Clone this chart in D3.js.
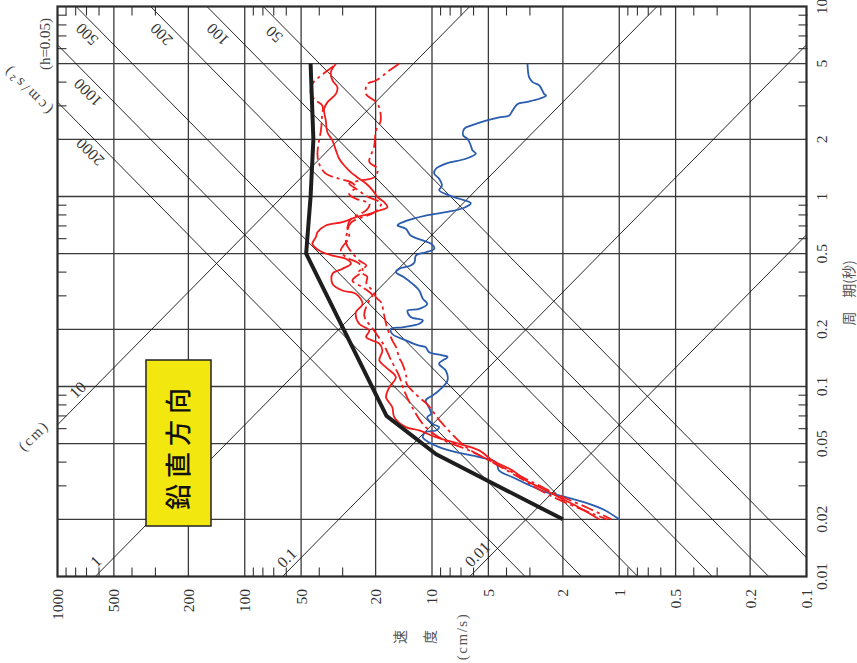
<!DOCTYPE html>
<html>
<head>
<meta charset="utf-8">
<script src="https://cdn.jsdelivr.net/npm/d3@7"></script>
<style>
  body { margin: 0; background: #fff; }
  svg { display: block; }
</style>
</head>
<body>
<svg id="chart" width="857" height="663"></svg>
<script>
// Axis ticks (period in seconds, pseudo velocity in cm/s)
const periodTicks = [10, 5, 2, 1, 0.5, 0.2, 0.1, 0.05, 0.02, 0.01];
const velocityTicks = [1000, 500, 200, 100, 50, 20, 10, 5, 2, 1, 0.5, 0.2, 0.1];
const minorMultipliers = [3, 4, 6, 7, 8, 9];
const velocityDecades = [100, 10, 1, 0.1];
const periodDecades = [1, 0.1, 0.01];

// Tripartite guide lines: displacement (cm) and acceleration (cm/s2)
const displacementLevels = [10, 1, 0.1, 0.01];
const displacementLabelPeriod = [0.088, 0.011, 0.0115, 0.012];
const accelerationLevels = [500, 200, 100, 50, 1000, 2000];
const accelerationLabelPeriod = [7.9, 7.9, 7.9, 7.9, 3.9, 1.9];

// Design spectrum (black)
const designPeriod = [5, 2, 1, 0.5, 0.07, 0.044, 0.02];
const designVelocity = [44.5, 43, 44.5, 47, 17.5, 9.5, 2];

// Blue record
const bluePeriod = [5, 4.25, 4.0, 3.84, 3.47, 3.40, 3.27, 3.14, 3.07, 2.84, 2.67, 2.61, 2.51, 2.36, 2.27, 2.09, 2.01, 1.85, 1.75, 1.68, 1.58, 1.49, 1.40, 1.32, 1.24, 1.14, 1.08, 1.03, 0.973, 0.922, 0.873, 0.827, 0.794, 0.763, 0.718, 0.704, 0.676, 0.623, 0.587, 0.564, 0.531, 0.509, 0.489, 0.451, 0.433, 0.416, 0.400, 0.376, 0.347, 0.320, 0.290, 0.272, 0.256, 0.251, 0.232, 0.223, 0.214, 0.205, 0.201, 0.189, 0.175, 0.164, 0.161, 0.152, 0.146, 0.143, 0.132, 0.121, 0.108, 0.0953, 0.0897, 0.0844, 0.0778, 0.0718, 0.0689, 0.0636, 0.0611, 0.0587, 0.0575, 0.0541, 0.0509, 0.0480, 0.0451, 0.0425, 0.0400, 0.0361, 0.0333, 0.0308, 0.0278, 0.0267, 0.0241, 0.0222, 0.02];
const blueVelocity = [3.09, 3.03, 2.90, 2.67, 2.52, 2.46, 2.67, 3.15, 3.49, 3.71, 3.87, 4.38, 5.15, 6.20, 6.73, 6.81, 6.46, 6.20, 6.08, 5.83, 6.59, 8.43, 9.53, 9.73, 9.16, 8.85, 9.16, 8.43, 7.16, 6.20, 6.73, 8.43, 10.8, 12.7, 15.0, 15.3, 13.8, 13.0, 11.2, 10.1, 9.73, 10.8, 12.2, 12.4, 13.0, 15.0, 15.6, 14.1, 12.7, 11.7, 11.2, 10.6, 11.7, 13.5, 13.0, 11.2, 11.7, 14.4, 16.6, 16.3, 13.8, 11.7, 10.8, 10.4, 8.79, 8.26, 9.16, 8.43, 8.26, 9.16, 9.94, 10.8, 10.4, 10.1, 10.6, 9.94, 9.16, 9.53, 10.8, 11.2, 10.4, 9.16, 7.45, 5.60, 4.56, 4.38, 3.71, 3.15, 2.46, 2.09, 1.45, 1.18, 1.0];

// Red records: one solid, two dash-dot
const redSolidPeriod = [5, 4.51, 4.08, 3.76, 3.47, 3.13, 2.89, 2.51, 2.18, 1.97, 1.75, 1.58, 1.46, 1.34, 1.26, 1.17, 1.08, 0.991, 0.933, 0.879, 0.844, 0.811, 0.778, 0.733, 0.704, 0.649, 0.611, 0.564, 0.520, 0.489, 0.470, 0.443, 0.416, 0.392, 0.347, 0.320, 0.308, 0.272, 0.246, 0.214, 0.197, 0.182, 0.168, 0.155, 0.137, 0.126, 0.112, 0.0991, 0.0879, 0.0778, 0.0689, 0.0611, 0.0587, 0.0541, 0.0499, 0.0461, 0.0408, 0.0361, 0.0320, 0.0295, 0.0261, 0.0231, 0.02];
const redSolidVelocity = [32.6, 34.7, 34.0, 32.0, 32.6, 36.2, 37.7, 36.9, 36.2, 34.0, 32.6, 31.3, 29.5, 27.1, 25.0, 22.5, 20.8, 19.5, 18.0, 17.3, 19.1, 21.6, 25.5, 30.1, 36.9, 40.9, 41.7, 43.5, 40.1, 34.0, 28.8, 27.1, 30.1, 34.0, 34.0, 30.1, 25.5, 23.5, 25.5, 24.5, 21.6, 22.5, 19.1, 18.4, 19.1, 17.6, 15.6, 16.9, 17.6, 16.3, 15.9, 13.8, 11.7, 9.53, 7.16, 5.60, 4.75, 3.71, 3.15, 2.67, 2.09, 1.64, 1.28];

const redDashAPeriod = [4.85, 4.25, 3.92, 3.47, 3.20, 3.01, 2.61, 2.22, 1.97, 1.68, 1.49, 1.32, 1.24, 1.19, 1.12, 1.03, 0.973, 0.915, 0.844, 0.763, 0.689, 0.611, 0.520, 0.480, 0.443, 0.408, 0.361, 0.333, 0.301, 0.284, 0.236, 0.197, 0.164, 0.137, 0.114, 0.0953, 0.0794, 0.0623, 0.0520, 0.0461, 0.0384, 0.0320, 0.0267, 0.0228, 0.02];
const redDashAVelocity = [33.6, 40.1, 43.5, 44.4, 41.7, 38.5, 38.7, 39.2, 40.1, 40.9, 40.1, 36.9, 31.3, 27.1, 25.5, 27.7, 25.5, 21.6, 22.5, 27.1, 28.3, 27.7, 30.7, 28.8, 24.5, 23.5, 26.6, 23.5, 20.8, 21.6, 23.0, 20.4, 18.0, 16.5, 15.0, 14.1, 12.9, 11.0, 8.61, 6.33, 4.38, 3.03, 2.09, 1.45, 1.10];

const redDashBPeriod = [5, 4.60, 4.08, 3.92, 3.47, 3.07, 2.51, 2.22, 1.82, 1.52, 1.40, 1.26, 1.21, 1.17, 1.10, 1.0, 0.919, 0.824, 0.730, 0.647, 0.566, 0.461, 0.433, 0.403, 0.379, 0.348, 0.320, 0.294, 0.277, 0.236, 0.202, 0.175, 0.160, 0.142, 0.132, 0.112, 0.104, 0.0875, 0.0814, 0.0639, 0.0478, 0.0408, 0.0349, 0.0273, 0.0234, 0.02];
const redDashBVelocity = [15.0, 16.9, 19.9, 22.1, 22.5, 19.5, 18.8, 19.9, 20.4, 21.6, 19.5, 20.4, 24.5, 27.7, 25.5, 22.2, 18.7, 20.4, 27.0, 28.4, 28.7, 24.5, 22.4, 24.5, 22.2, 22.4, 20.8, 19.9, 18.7, 18.0, 17.3, 16.3, 15.5, 15.0, 14.4, 13.7, 13.7, 11.7, 10.7, 8.82, 6.56, 4.95, 3.73, 2.45, 1.74, 1.16];

// ---------------------------------------------------------------
const plot = { left: 57.5, right: 806.5, top: 6.5, bottom: 576.5 };
const x = d3.scaleLog().domain([1000, 0.1]).range([plot.left, plot.right]);
const y = d3.scaleLog().domain([0.01, 10]).range([plot.bottom, plot.top]);
const TWO_PI = 2 * Math.PI;

const svg = d3.select('#chart');
svg.append('rect').attr('width', 857).attr('height', 663).attr('fill', '#fff');

svg.append('defs').append('clipPath').attr('id', 'plotClip')
  .append('rect')
  .attr('x', plot.left).attr('y', plot.top)
  .attr('width', plot.right - plot.left).attr('height', plot.bottom - plot.top);

const serif = '"Liberation Serif", "DejaVu Serif", serif';
const cjk = '"Noto Sans CJK JP", "Noto Sans CJK SC", sans-serif';

// Grid
const grid = svg.append('g').attr('stroke', '#3a3a3a').attr('stroke-width', 1.3);
velocityTicks.slice(1, -1).forEach(v => {
  grid.append('line').attr('x1', x(v)).attr('x2', x(v))
    .attr('y1', plot.top).attr('y2', plot.bottom);
});
periodTicks.slice(1, -1).forEach(t => {
  grid.append('line').attr('y1', y(t)).attr('y2', y(t))
    .attr('x1', plot.left).attr('x2', plot.right);
});

// Diagonal guide lines
const diag = svg.append('g').attr('clip-path', 'url(#plotClip)')
  .attr('stroke', '#111').attr('stroke-width', 0.9).attr('fill', 'none');
const diagLine = d3.line().x(d => x(d[1])).y(d => y(d[0]));
displacementLevels.forEach(sd => {
  const pts = [0.001, 100].map(t => [t, TWO_PI * sd / t]);
  diag.append('path').attr('d', diagLine(pts));
});
accelerationLevels.forEach(sa => {
  const pts = [0.001, 100].map(t => [t, sa * t / TWO_PI]);
  diag.append('path').attr('d', diagLine(pts));
});

// Minor ticks on all four sides
const ticks = svg.append('g').attr('stroke', '#333').attr('stroke-width', 1.1);
velocityDecades.forEach(base => minorMultipliers.forEach(m => {
  const xv = x(base * m);
  ticks.append('line').attr('x1', xv).attr('x2', xv).attr('y1', plot.bottom).attr('y2', plot.bottom - 9);
  ticks.append('line').attr('x1', xv).attr('x2', xv).attr('y1', plot.top).attr('y2', plot.top + 9);
}));
periodDecades.forEach(base => minorMultipliers.forEach(m => {
  const yv = y(base * m);
  ticks.append('line').attr('y1', yv).attr('y2', yv).attr('x1', plot.left).attr('x2', plot.left + 9);
  ticks.append('line').attr('y1', yv).attr('y2', yv).attr('x1', plot.right - 8).attr('x2', plot.right + 1);
}));

// Spectra
const spec = svg.append('g').attr('clip-path', 'url(#plotClip)').attr('fill', 'none');
const specLine = d3.line().x(d => x(d[1])).y(d => y(d[0])).curve(d3.curveCatmullRom.alpha(0.5));
const zipPV = (p, v) => p.map((t, i) => [t, v[i]]);

spec.append('path').attr('d', specLine(zipPV(bluePeriod, blueVelocity)))
  .attr('stroke', '#2a5caf').attr('stroke-width', 1.8).attr('stroke-linejoin', 'round');
spec.append('path').attr('d', specLine(zipPV(redDashBPeriod, redDashBVelocity)))
  .attr('stroke', '#f21c1c').attr('stroke-width', 1.8).attr('stroke-dasharray', '13,4,3,4');
spec.append('path').attr('d', specLine(zipPV(redDashAPeriod, redDashAVelocity)))
  .attr('stroke', '#f21c1c').attr('stroke-width', 1.8).attr('stroke-dasharray', '13,4,3,4');
spec.append('path').attr('d', specLine(zipPV(redSolidPeriod, redSolidVelocity)))
  .attr('stroke', '#f21c1c').attr('stroke-width', 1.8).attr('stroke-linejoin', 'round');
spec.append('path')
  .attr('d', d3.line().x(d => x(d[1])).y(d => y(d[0]))(zipPV(designPeriod, designVelocity)))
  .attr('stroke', '#1e1e1e').attr('stroke-width', 4).attr('stroke-linejoin', 'round');

// Frame
svg.append('rect')
  .attr('x', plot.left).attr('y', plot.top)
  .attr('width', plot.right - plot.left).attr('height', plot.bottom - plot.top)
  .attr('fill', 'none').attr('stroke', '#2b2b2b').attr('stroke-width', 2.2);

// Tick labels
const labels = svg.append('g').attr('font-family', serif).attr('font-size', 15.5).attr('fill', '#333');
velocityTicks.forEach(v => {
  labels.append('text')
    .attr('transform', `translate(${x(v)},589) rotate(-90)`)
    .attr('text-anchor', 'end').attr('dy', '0.35em').text(String(v));
});
periodTicks.forEach(t => {
  labels.append('text')
    .attr('transform', `translate(822,${y(t)}) rotate(-90)`)
    .attr('text-anchor', 'middle').attr('dy', '0.35em').text(String(t));
});

// Guide line labels, written along each line
const guideLabels = svg.append('g').attr('font-family', serif).attr('font-size', 16).attr('fill', '#333');
displacementLevels.forEach((sd, i) => {
  const t = displacementLabelPeriod[i];
  const px = x(TWO_PI * sd / t), py = y(t);
  guideLabels.append('text')
    .attr('transform', `translate(${px},${py}) rotate(-45)`)
    .attr('text-anchor', 'middle').attr('dy', '-0.3em').text(String(sd));
});
accelerationLevels.forEach((sa, i) => {
  const t = accelerationLabelPeriod[i];
  const px = x(sa * t / TWO_PI), py = y(t);
  guideLabels.append('text')
    .attr('transform', `translate(${px},${py}) rotate(-135)`)
    .attr('text-anchor', 'middle').attr('dy', '-0.4em').text(String(sa));
});

// Unit labels of the guide lines and damping
const unitLabels = svg.append('g').attr('font-family', serif).attr('font-size', 15).attr('fill', '#444');
unitLabels.append('text').attr('transform', 'translate(33.5,435.5) rotate(-45)')
  .attr('letter-spacing', 2)
  .attr('text-anchor', 'middle').attr('dy', '0.35em').text('(cm)');
unitLabels.append('text').attr('transform', 'translate(27,90) rotate(-135)')
  .attr('letter-spacing', 3)
  .attr('text-anchor', 'middle').attr('dy', '0.35em').text('(cm/s²)');
unitLabels.append('text').attr('transform', 'translate(45,44) rotate(-90)')
  .attr('text-anchor', 'middle').attr('dy', '0.35em').text('(h=0.05)');

// Axis titles
const titles = svg.append('g').attr('fill', '#555');
titles.append('text').attr('font-family', cjk).attr('font-size', 14)
  .attr('transform', 'translate(400,637) rotate(-90)')
  .attr('text-anchor', 'middle').attr('dy', '0.35em').text('速');
titles.append('text').attr('font-family', cjk).attr('font-size', 14)
  .attr('transform', 'translate(430,637) rotate(-90)')
  .attr('text-anchor', 'middle').attr('dy', '0.35em').text('度');
titles.append('text').attr('font-family', serif).attr('font-size', 15).attr('letter-spacing', 1.5)
  .attr('transform', 'translate(462,636.5) rotate(-90)')
  .attr('text-anchor', 'middle').attr('dy', '0.35em').text('(cm/s)');
titles.append('text').attr('font-family', cjk).attr('font-size', 14)
  .attr('transform', 'translate(849,318.5) rotate(-90)')
  .attr('text-anchor', 'middle').attr('dy', '0.35em').text('周');
titles.append('text').attr('font-family', cjk).attr('font-size', 14)
  .attr('transform', 'translate(849,279) rotate(-90)')
  .attr('text-anchor', 'middle').attr('dy', '0.35em').text('期(秒)');

// Component label box
svg.append('rect').attr('x', 146).attr('y', 360).attr('width', 65).attr('height', 166)
  .attr('fill', '#f2e70f').attr('stroke', '#222').attr('stroke-width', 1.5);
svg.append('text').attr('font-family', cjk).attr('font-size', 26).attr('font-weight', 500)
  .attr('letter-spacing', 6).attr('fill', '#111')
  .attr('transform', 'translate(178.5,446) rotate(-90)')
  .attr('text-anchor', 'middle').attr('dy', '0.36em').text('鉛直方向');
</script>
</body>
</html>
